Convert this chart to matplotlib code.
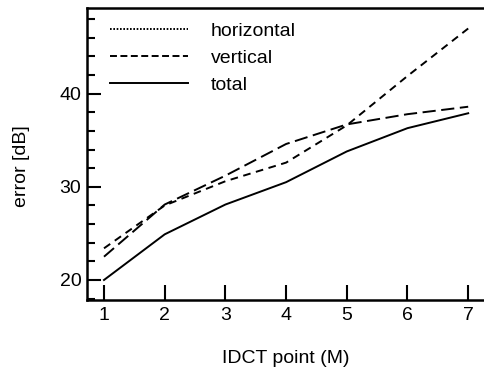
import matplotlib
matplotlib.use("Agg")
import matplotlib.pyplot as plt
from matplotlib.lines import Line2D
from matplotlib.ticker import MultipleLocator

plt.rcParams['font.family'] = ['Liberation Sans', 'DejaVu Sans']
plt.rcParams['lines.scale_dashes'] = False

points = [1, 2, 3, 4, 5, 6, 7]
horizontal = [23.4, 28.0, 30.6, 32.6, 36.6, 41.9, 47.0]
vertical = [22.5, 28.1, 31.2, 34.6, 36.7, 37.8, 38.6]
total = [20.0, 24.9, 28.1, 30.5, 33.8, 36.3, 37.9]
labels = ["horizontal", "vertical", "total"]

fig = plt.figure(figsize=(4.84, 3.72), dpi=100)
x0, x1 = 0.72, 7.45
ax_w_px = (x1 - x0) * 60.7
ax_h_px = 300 - 8
ax = fig.add_axes([87/484, 1-300/372, ax_w_px / 484, ax_h_px/372])

lw = 1.4
ax.plot(points, horizontal, color='black', lw=lw, dashes=(5.5, 4))
ax.plot(points, vertical, color='black', lw=lw, dashes=(9.5, 4))
ax.plot(points, total, color='black', lw=lw)

ax.set_xlim(x0, x1)
ax.set_ylim(17.85, 49.2)
ax.set_xticks(points)
ax.yaxis.set_major_locator(MultipleLocator(10))
ax.yaxis.set_minor_locator(MultipleLocator(2))
ax.tick_params(axis='both', which='major', direction='in', length=10, width=1.5, labelsize=14)
ax.tick_params(axis='y', which='minor', direction='in', length=6, width=1.5)
ax.tick_params(axis='x', which='major', length=11, pad=5)
ax.tick_params(axis='y', which='major', pad=4)
for s in ax.spines.values():
    s.set_linewidth(1.8)

ax.set_xlabel("IDCT point (M)", fontsize=14)
ax.set_ylabel("error [dB]", fontsize=14)
ax.xaxis.set_label_coords((286 - 87) / ax_w_px, -50 / ax_h_px)
ax.yaxis.set_label_coords(-57 / ax_w_px, (300 - 166) / ax_h_px)

handles = [Line2D([], [], color='black', lw=lw, dashes=(1.2, 1.2)),
           Line2D([], [], color='black', lw=lw, dashes=(5, 2.5)),
           Line2D([], [], color='black', lw=lw)]
ax.legend(handles, labels, loc='upper left', bbox_to_anchor=(23/ax_w_px, 1 - 14/ax_h_px),
          frameon=False, fontsize=14, handlelength=4.0, handletextpad=1.2,
          labelspacing=0.5, borderpad=0, borderaxespad=0)

fig.savefig("out.png", dpi=100)
